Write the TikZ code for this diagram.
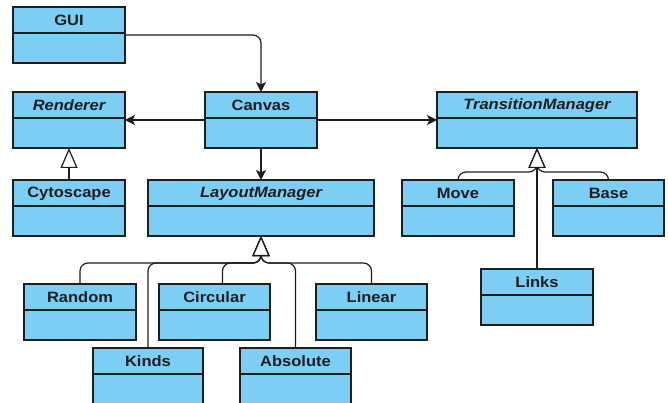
\documentclass[tikz,border=0pt]{standalone}
\usepackage{graphicx}
\usepackage{fontspec}
\setmainfont{Liberation Sans}
\usetikzlibrary{arrows.meta}

\definecolor{classfill}{RGB}{125,206,244}
\definecolor{ink}{RGB}{30,30,30}

\tikzset{
  classbox/.style={draw=ink, fill=classfill, line width=1.2pt, rectangle,
    minimum height=56pt, inner sep=0pt, outer sep=0pt},
  classline/.style={draw=ink, line width=1.2pt},
  classtitle/.style={inner sep=0pt, text=ink,
    font=\bfseries\fontsize{15}{18}\selectfont},
  abstracttitle/.style={classtitle, font=\bfseries\itshape\fontsize{15}{18}\selectfont},
  assoc/.style={draw=ink, line width=1.2pt, rounded corners=8pt,
    -{Stealth[length=10pt,width=10pt,inset=2.5pt]}},
  inherit/.style={draw=ink, line width=1.2pt, rounded corners=8pt,
    -{Triangle[open,length=20pt,width=17pt,fill=white]}}
}

% UML class: name, left x, top y, width, title style, title text
\newcommand\umlclass[6]{%
  \node[classbox, minimum width=#4pt, anchor=north west] (#1) at (#2,#3) {};
  \draw[classline] (#2,#3+26) -- (#2+#4,#3+26);
  \node[#5] (#1-title) at (#2+#4/2,#3+13.5) {\scalebox{1.1}[1]{#6}};
}

\begin{document}
\begin{tikzpicture}[x=1pt,y=-1pt]
  \clip (0,0) rectangle (668,403);
  \fill[white] (0,0) rectangle (668,403);

  % classes
  \umlclass{gui}{13}{7}{112}{classtitle}{GUI}
  \umlclass{renderer}{13}{92}{112}{abstracttitle}{Renderer}
  \umlclass{canvas}{205}{92}{112}{classtitle}{Canvas}
  \umlclass{transition}{437}{92}{200}{abstracttitle}{TransitionManager}
  \umlclass{cytoscape}{13}{180}{112}{classtitle}{Cytoscape}
  \umlclass{layout}{148}{180}{226}{abstracttitle}{LayoutManager}
  \umlclass{move}{402}{180}{112}{classtitle}{Move}
  \umlclass{base}{553}{180}{111}{classtitle}{Base}
  \umlclass{random}{24}{284}{112}{classtitle}{Random}
  \umlclass{circular}{159}{284}{111}{classtitle}{Circular}
  \umlclass{linear}{316}{284}{111}{classtitle}{Linear}
  \umlclass{links}{481}{269}{112}{classtitle}{Links}
  \umlclass{kinds}{93}{348}{110}{classtitle}{Kinds}
  \umlclass{absolute}{240}{348}{111}{classtitle}{Absolute}

  % junction points of the generalisation trees
  \coordinate (layoutjoin) at (261,263);
  \coordinate (transjoin) at (537,172);

  % associations
  \draw[assoc] (gui.east) -| (canvas.north);
  \draw[assoc] (canvas.west) -- (renderer.east);
  \draw[assoc] (canvas.east) -- (transition.west);
  \draw[assoc] (canvas.south) -- (layout.north);

  % generalisations
  \draw[inherit] (cytoscape.north) -- (renderer.south);
  \draw[inherit] (random.north) |- (layoutjoin) -- (layout.south);
  \draw[inherit] (kinds.north) |- (layoutjoin) -- (layout.south);
  \draw[inherit] ([xshift=8pt]circular.north) |- (layoutjoin) -- (layout.south);
  \draw[inherit] (absolute.north) |- (layoutjoin) -- (layout.south);
  \draw[inherit] (linear.north) |- (layoutjoin) -- (layout.south);
  \draw[inherit] (move.north) |- (transjoin) -- (transition.south);
  \draw[inherit] (base.north) |- (transjoin) -- (transition.south);
  \draw[inherit] (links.north) -- (transition.south);
\end{tikzpicture}
\end{document}
